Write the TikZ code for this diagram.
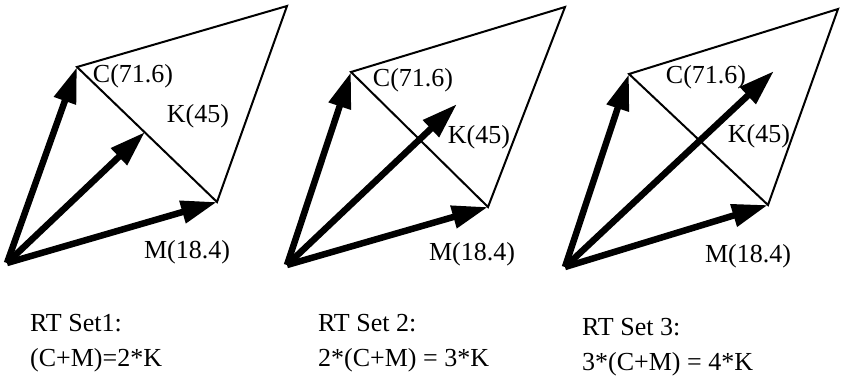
\documentclass[tikz,border=0pt]{standalone}
\usepackage{fontspec}
\setmainfont{Liberation Serif}
\usetikzlibrary{arrows.meta}
\begin{document}
\begin{tikzpicture}[x=1pt,y=-1pt,
  vec/.style={line width=6.5pt,-{Triangle[length=36pt,width=22pt]}},
  edgeline/.style={line width=2pt,line join=miter},
  lbl/.style={inner sep=0pt,font=\fontsize{26}{30}\selectfont},
  captext/.style={inner sep=0pt,anchor=base west,font=\fontsize{26}{30}\selectfont}]
\useasboundingbox (0,0) rectangle (841,378);
% Panel 1
\coordinate (O1) at (7,263);
\coordinate (C1) at (77,67);
\coordinate (M1) at (217,202);
\coordinate (T1) at (287,6);
\coordinate (K1) at (145,132);
\draw[edgeline] (C1) -- (T1) -- (M1) -- cycle;
\draw[vec] (O1) -- (C1);
\draw[vec] (O1) -- (M1);
\draw[vec] (O1) -- (K1);
\node[lbl] (lc1) at (133,76) {C(71.6)};
\node[lbl] (lk1) at (198,116) {K(45)};
\node[lbl] (lm1) at (187,252) {M(18.4)};
\node[captext] (s1) at (30,331) {RT Set1:};
\node[captext] (e1) at (30,366) {(C+M)=2*K};
% Panel 2
\coordinate (O2) at (287,265);
\coordinate (C2) at (351,72);
\coordinate (M2) at (488,207);
\coordinate (T2) at (565,7);
\coordinate (K2) at (457,104);
\draw[edgeline] (C2) -- (T2) -- (M2) -- cycle;
\draw[vec] (O2) -- (C2);
\draw[vec] (O2) -- (M2);
\draw[vec] (O2) -- (K2);
\node[lbl] (lc2) at (413,80) {C(71.6)};
\node[lbl] (lk2) at (479,137) {K(45)};
\node[lbl] (lm2) at (472,254) {M(18.4)};
\node[captext] (s2) at (318,331) {RT Set 2:};
\node[captext] (e2) at (318,366) {2*(C+M) = 3*K};
% Panel 3
\coordinate (O3) at (565,267);
\coordinate (C3) at (629,74);
\coordinate (M3) at (768,205);
\coordinate (T3) at (838,9);
\coordinate (K3) at (774,71);
\draw[edgeline] (C3) -- (T3) -- (M3) -- cycle;
\draw[vec] (O3) -- (C3);
\draw[vec] (O3) -- (M3);
\draw[vec] (O3) -- (K3);
\node[lbl] (lc3) at (706,77) {C(71.6)};
\node[lbl] (lk3) at (759,136) {K(45)};
\node[lbl] (lm3) at (748,256) {M(18.4)};
\node[captext] (s3) at (582,335) {RT Set 3:};
\node[captext] (e3) at (582,370) {3*(C+M) = 4*K};
\end{tikzpicture}
\end{document}
